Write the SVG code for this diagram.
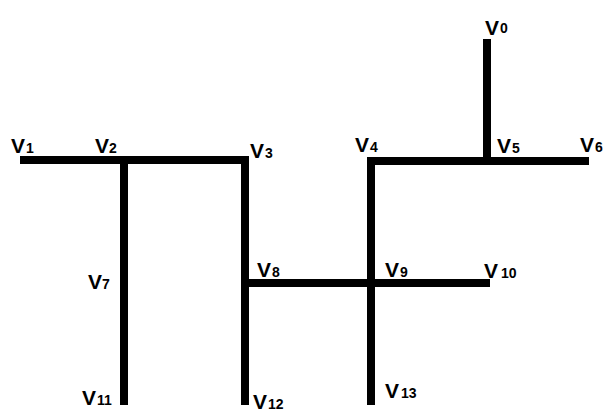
<svg xmlns="http://www.w3.org/2000/svg" width="606" height="412" viewBox="0 0 606 412">
  <style>
    .edge { fill: none; stroke: #000; stroke-width: 8; stroke-linecap: butt; stroke-linejoin: miter; }
    .lbl { font-family: "Liberation Sans", Arial, sans-serif; font-weight: bold; font-size: 21px; fill: #000; }
    .sub { font-size: 14px; }
  </style>
  <rect width="606" height="412" fill="#fff"/>
  <g id="connectors">
    <path class="edge" d="M20 160 H245 V405"/>
    <path class="edge" d="M124 160 V405"/>
    <path class="edge" d="M589 161 H371 V405"/>
    <path class="edge" d="M487 39 V161"/>
    <path class="edge" d="M245 283 H490"/>
  </g>
  <g id="v0"><text class="lbl" x="485" y="35">V<tspan class="sub" dx="1" dy="-2">0</tspan></text></g>
  <g id="v1"><text class="lbl" x="11" y="153">V<tspan class="sub" dx="1">1</tspan></text></g>
  <g id="v2"><text class="lbl" x="95" y="153">V<tspan class="sub" dx="0">2</tspan></text></g>
  <g id="v3"><text class="lbl" x="250" y="158">V<tspan class="sub" dx="1">3</tspan></text></g>
  <g id="v4"><text class="lbl" x="355" y="152">V<tspan class="sub" dx="1">4</tspan></text></g>
  <g id="v5"><text class="lbl" x="497" y="153">V<tspan class="sub" dx="1">5</tspan></text></g>
  <g id="v6"><text class="lbl" x="580" y="152">V<tspan class="sub" dx="1">6</tspan></text></g>
  <g id="v7"><text class="lbl" x="88" y="289">V<tspan class="sub" dx="0">7</tspan></text></g>
  <g id="v8"><text class="lbl" x="257" y="277">V<tspan class="sub" dx="1">8</tspan></text></g>
  <g id="v9"><text class="lbl" x="385" y="277">V<tspan class="sub" dx="1">9</tspan></text></g>
  <g id="v10"><text class="lbl" x="484" y="278">V<tspan class="sub" dx="3">10</tspan></text></g>
  <g id="v11"><text class="lbl" x="82" y="405">V<tspan class="sub" dx="1">11</tspan></text></g>
  <g id="v12"><text class="lbl" x="253" y="409">V<tspan class="sub" dx="1">12</tspan></text></g>
  <g id="v13"><text class="lbl" x="385" y="398">V<tspan class="sub" dx="2">13</tspan></text></g>
</svg>
